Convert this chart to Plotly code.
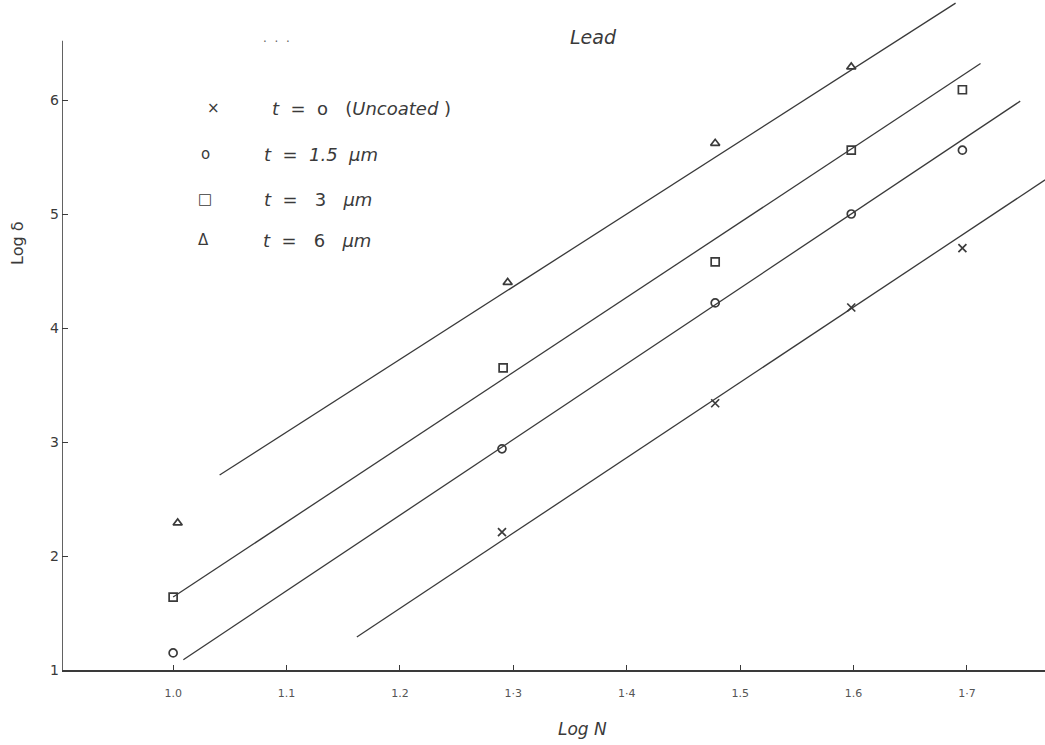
import plotly.graph_objects as go

# ---- data ----
x_uncoated = [1.290, 1.478, 1.598, 1.696]
y_uncoated = [2.21, 3.34, 4.18, 4.70]

x_t15 = [1.000, 1.290, 1.478, 1.598, 1.696]
y_t15 = [1.15, 2.94, 4.22, 5.00, 5.56]

x_t3 = [1.000, 1.291, 1.478, 1.598, 1.696]
y_t3 = [1.64, 3.65, 4.58, 5.56, 6.09]

x_t6 = [1.004, 1.295, 1.478, 1.598]
y_t6 = [2.29, 4.40, 5.62, 6.29]

# hand-drawn fit lines (end points)
fit_uncoated_x = [1.162, 1.769]
fit_uncoated_y = [1.29, 5.30]
fit_t15_x = [1.009, 1.747]
fit_t15_y = [1.09, 5.99]
fit_t3_x = [1.000, 1.712]
fit_t3_y = [1.64, 6.32]
fit_t6_x = [1.041, 1.690]
fit_t6_y = [2.71, 6.85]

x_ticks = [1.0, 1.1, 1.2, 1.3, 1.4, 1.5, 1.6, 1.7]
x_tick_labels = ["1.0", "1.1", "1.2", "1·3", "1·4", "1.5", "1.6", "1·7"]
y_ticks = [1, 2, 3, 4, 5, 6]
y_tick_labels = ["1", "2", "3", "4", "5", "6"]

legend_symbols = ["×", "o", "□", "Δ"]
legend_labels = ["<i>t</i>  =  o   (<i>Uncoated</i> )", "<i>t</i>  =  <i>1.5  μm</i>",
                 "<i>t</i>  =   3   <i>μm</i>", "<i>t</i>  =   6   <i>μm</i>"]

title_text = "<i>Lead</i>"
x_title = "<i>Log N</i>"
y_title = "Log δ"

INK = "#3a3a3a"
FONT = "DejaVu Sans"

fig = go.Figure()

fits = [(fit_uncoated_x, fit_uncoated_y), (fit_t15_x, fit_t15_y),
        (fit_t3_x, fit_t3_y), (fit_t6_x, fit_t6_y)]
for fx, fy in fits:
    fig.add_trace(go.Scatter(x=fx, y=fy, mode="lines",
                             line=dict(color=INK, width=1.3),
                             hoverinfo="skip", showlegend=False))

series = [
    (x_uncoated, y_uncoated, "x-thin-open", 8),
    (x_t15, y_t15, "circle-open", 8),
    (x_t3, y_t3, "square-open", 8),
    (x_t6, y_t6, "triangle-up-open", 8),
]
for sx, sy, sym, sz in series:
    fig.add_trace(go.Scatter(x=sx, y=sy, mode="markers",
                             marker=dict(symbol=sym, size=sz, color=INK,
                                         line=dict(color=INK, width=1.7)),
                             cliponaxis=False, showlegend=False))

# y-axis line drawn only up to where the hand-drawn axis ends
fig.add_shape(type="line", xref="x", yref="y", x0=0.902, x1=0.902, y0=1.0, y1=6.52,
              line=dict(color=INK, width=1.6))

X0, X1 = 0.902, 0.902 + 983 / 1134
Y0, Y1 = 1.0, 1.0 + 670 / 114

fig.update_layout(
    width=1045, height=745,
    margin=dict(l=62, r=0, t=0, b=75),
    paper_bgcolor="white", plot_bgcolor="white",
    font=dict(family=FONT, color=INK),
    showlegend=False,
    xaxis=dict(range=[X0, X1], showgrid=False, zeroline=False,
               showline=True, linecolor=INK, linewidth=1.6,
               ticks="inside", ticklen=5, tickcolor=INK, tickwidth=1,
               tickvals=x_ticks, ticktext=x_tick_labels,
               tickfont=dict(size=11, color="#555", family=FONT),
               ticklabelstandoff=12),
    yaxis=dict(range=[Y0, Y1], showgrid=False, zeroline=False,
               showline=False,
               ticks="inside", ticklen=6, tickcolor=INK, tickwidth=1,
               tickvals=y_ticks, ticktext=y_tick_labels,
               tickfont=dict(size=14, color=INK, family=FONT),
               ticklabelstandoff=2),
)

def px_to_paper_x(px):
    return (px - 62) / 983

def px_to_paper_y(py):
    return (670 - py) / 670

def ann(text, px, py, size, color=INK, xanchor="center", angle=0):
    return dict(text=text, x=px_to_paper_x(px), y=px_to_paper_y(py),
                xref="paper", yref="paper", showarrow=False,
                xanchor=xanchor, yanchor="middle", textangle=angle,
                font=dict(size=size, color=color, family=FONT))

annotations = [
    ann(title_text, 593, 37, 19),
    ann("·  ·  ·", 276, 42, 12, color="#666"),
    ann(x_title, 582, 729, 17),
    ann(y_title, 17, 244, 16, angle=-90),
]

sym_x = [213, 205, 205, 203]
row_y = [108, 154, 199, 240]
text_x = [270, 262, 262, 261]
for sx, ry, tx, s, lab in zip(sym_x, row_y, text_x, legend_symbols, legend_labels):
    annotations.append(ann(s, sx, ry, 15))
    annotations.append(ann(lab, tx, ry, 18, xanchor="left"))

fig.update_layout(annotations=annotations)

fig.write_html("out.html", config={"displayModeBar": False},
               post_script="document.body.style.margin='0px';")
